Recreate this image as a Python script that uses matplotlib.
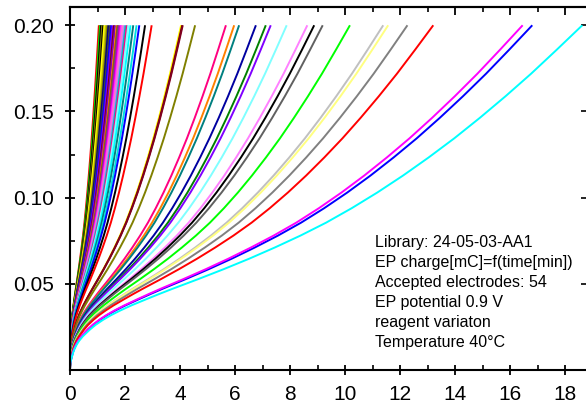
import numpy as np
import matplotlib
matplotlib.use("Agg")
import matplotlib.pyplot as plt
from matplotlib.ticker import MultipleLocator

plt.rcParams["font.family"] = ["Liberation Sans", "DejaVu Sans"]

profile_frac = [0.0, 0.0003, 0.0008, 0.0018, 0.0032, 0.006, 0.009, 0.013, 0.018, 0.025,
                0.032, 0.039, 0.05, 0.065, 0.08, 0.098, 0.12, 0.15, 0.175, 0.2,
                0.25, 0.3, 0.35, 0.4, 0.45, 0.5, 0.55, 0.6, 0.65, 0.7, 0.75, 0.8,
                0.85, 0.9, 0.95, 1.0]
profile_charge = [0.0, 0.0025, 0.004, 0.0055, 0.007, 0.0100, 0.0123, 0.0147, 0.0170, 0.0195,
                  0.0215, 0.0235, 0.0262, 0.0292, 0.0318, 0.0345, 0.0375, 0.0412, 0.0442,
                  0.0471, 0.0527, 0.0585, 0.0646, 0.0711, 0.0780, 0.0855, 0.0939, 0.1030,
                  0.1128, 0.1233, 0.1344, 0.1463, 0.1588, 0.1719, 0.1858, 0.2]

# time [min] at which each electrode reaches 0.2 mC, and its colour
end_times = [1.05, 1.09, 1.11, 1.13, 1.17, 1.21, 1.25, 1.31, 1.36, 1.40, 1.45,
             1.50, 1.55, 1.60, 1.64, 1.70, 1.73, 1.76, 1.80, 1.85, 1.88, 1.92,
             1.97, 2.02, 2.07, 2.12, 2.20, 2.30, 2.42, 2.52, 2.73, 2.97,
             4.04, 4.08, 4.10, 4.55, 5.67, 5.97, 6.15, 6.76, 7.12, 7.30, 7.88,
             8.63, 8.88, 9.19, 10.18, 11.39, 11.57, 12.27, 13.21, 16.81, 16.46, 18.63]
colors = ["#ff0000", "#00c000", "#00ff00", "#000000", "#808000", "#000000", "#ffff00",
          "#c0c000", "#808000", "#000080", "#404040", "#0000ff", "#8000ff", "#800000",
          "#8000c0", "#ff8000", "#a05000", "#606060", "#c000c0", "#ff00ff", "#ff40ff",
          "#ff80c0", "#c080ff", "#00c0c0", "#ff0080", "#80ffff", "#00ffff", "#008080",
          "#00e0e0", "#0000ff", "#000000", "#ff0000",
          "#ffff00", "#800000", "#800020", "#808000", "#ff0080", "#ff8000", "#008080",
          "#0000a0", "#008000", "#8000ff", "#80ffff", "#ff80ff", "#000000", "#606060",
          "#00ff00", "#c0c0c0", "#ffff80", "#808080", "#ff0000", "#0000ff", "#ff00ff",
          "#00ffff"]

info = ("Library: 24-05-03-AA1\n"
        "EP charge[mC]=f(time[min])\n"
        "Accepted electrodes: 54\n"
        "EP potential 0.9 V\n"
        "reagent variaton\n"
        "Temperature 40\u00b0C")

fig = plt.figure(figsize=(5.86, 4.07), dpi=100)
W, H = 586, 407
ax = fig.add_axes([70 / W, 1 - 370 / H, (587 - 70) / W, (370 - 7) / H])

frac = np.array(profile_frac)
for T, c in zip(end_times, colors):
    ax.plot(frac * T, profile_charge, color=c, lw=1.4, solid_capstyle="butt",
            solid_joinstyle="round")

ax.set_xlim(0, 18.8)
ax.set_ylim(0, 0.2106)

ax.xaxis.set_major_locator(MultipleLocator(2))
ax.xaxis.set_minor_locator(MultipleLocator(1))
ax.yaxis.set_minor_locator(MultipleLocator(0.025))
ax.set_yticks([0.05, 0.10, 0.15, 0.20])
ax.set_yticklabels(["0.05", "0.10", "0.15", "0.20"])

ax.tick_params(which="major", direction="inout", length=7.5, width=1.3,
               labelsize=15, color="black")
ax.tick_params(axis="x", which="major", pad=7)
ax.tick_params(axis="y", which="major", pad=7.5)
ax.tick_params(which="minor", direction="in", length=3.5, width=1.2)

for side in ["left", "bottom", "top"]:
    ax.spines[side].set_linewidth(1.5)
ax.spines["right"].set_visible(False)

top = ax.secondary_xaxis("top")
top.xaxis.set_major_locator(MultipleLocator(2))
top.xaxis.set_minor_locator(MultipleLocator(1))
top.tick_params(which="major", direction="in", length=5.5, width=1.3, labeltop=False)
top.tick_params(which="minor", direction="in", length=3.5, width=1.2)
top.spines["top"].set_linewidth(1.5)

right = ax.secondary_yaxis("right")
right.set_yticks([0.05, 0.10, 0.15, 0.20])
right.yaxis.set_minor_locator(MultipleLocator(0.025))
right.tick_params(which="major", direction="in", length=4, width=1.2, labelright=False)
right.tick_params(which="minor", length=0)
right.spines["right"].set_visible(False)

ax.text(0.590, 0.373, info, transform=ax.transAxes, ha="left", va="top",
        fontsize=11.5, linespacing=1.42, color="black")

fig.savefig("out.png", dpi=100)
